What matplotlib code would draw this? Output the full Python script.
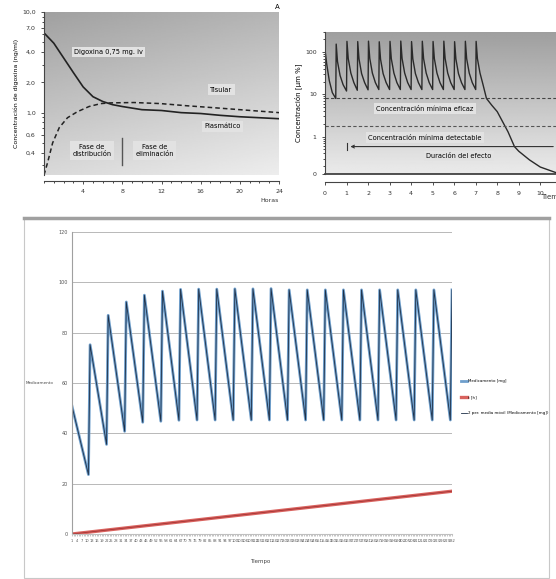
import matplotlib.pyplot as plt
import numpy as np
from matplotlib.patches import Rectangle
from matplotlib.lines import Line2D
from matplotlib.ticker import NullFormatter, MultipleLocator

# ---- panel A: digoxina ----
horas_plasma = [0, 1, 2, 3, 4, 5, 6, 7, 8, 10, 12, 14, 16, 18, 20, 22, 24]
conc_plasma = [6.2, 4.9, 3.5, 2.5, 1.8, 1.44, 1.29, 1.2, 1.15, 1.07, 1.05, 1.0,
               0.98, 0.94, 0.91, 0.89, 0.87]
horas_tisular = [0, 0.37, 0.88, 1.56, 2.4, 3.4, 4.6, 5.8, 6.8, 9.2, 11.9, 14.6,
                 17.3, 20, 24]
conc_tisular = [0.24, 0.32, 0.5, 0.71, 0.89, 1.02, 1.15, 1.23, 1.25, 1.26, 1.23,
                1.17, 1.12, 1.07, 1.0]
ticks_a = [0.4, 0.6, 1, 2, 4, 7, 10]
etiquetas_a = ['0,4', '0,6', '1,0', '2,0', '4,0', '7,0', '10,0']

# ---- panel de dosis repetidas ----
tiempo_dosis = [
    0.00, 0.08, 0.20, 0.34,
    0.50, 0.52, 0.58, 0.70, 0.84,
    1.00, 1.02, 1.08, 1.20, 1.34,
    1.50, 1.52, 1.58, 1.70, 1.84,
    2.00, 2.02, 2.08, 2.20, 2.34,
    2.50, 2.52, 2.58, 2.70, 2.84,
    3.00, 3.02, 3.08, 3.20, 3.34,
    3.50, 3.52, 3.58, 3.70, 3.84,
    4.00, 4.02, 4.08, 4.20, 4.34,
    4.50, 4.52, 4.58, 4.70, 4.84,
    5.00, 5.02, 5.08, 5.20, 5.34,
    5.50, 5.52, 5.58, 5.70, 5.84,
    6.00, 6.02, 6.08, 6.20, 6.34,
    6.50, 6.52, 6.58, 6.70, 6.84,
    7.00, 7.02, 7.08, 7.20, 7.34,
    7.50, 7.75, 8.00, 8.50, 8.80, 9.00, 9.50, 10.00, 10.73]
concentracion = [
    115, 52, 21, 11,
    8.0, 155, 60, 28, 17,
    12.0, 180, 70, 32, 19,
    12.5, 178, 69, 31, 19,
    12.8, 182, 71, 32, 19,
    13.0, 176, 68, 31, 19,
    13.0, 180, 70, 32, 19,
    13.0, 183, 71, 32, 19,
    13.0, 178, 69, 31, 19,
    13.0, 181, 70, 32, 19,
    13.0, 179, 70, 32, 19,
    13.0, 182, 71, 32, 19,
    13.0, 177, 69, 31, 19,
    13.0, 181, 70, 32, 19,
    13.0, 180, 70, 32, 17,
    8.0, 5.5, 3.9, 1.3, 0.58, 0.45, 0.28, 0.19, 0.14]
nivel_eficaz = 8.0
nivel_detectable = 1.8
nivel_duracion = 0.58
inicio_efecto = 1.0

# ---- grafico de Excel ----
indices_med = [1, 11, 12, 22, 23, 33, 34, 44, 45, 55, 56, 66, 67, 77, 78, 88, 89,
               99, 100, 110, 111, 121, 122, 132, 133, 143, 144, 154, 155, 165, 166,
               176, 177, 187, 188, 198, 199, 209, 210, 220, 221, 231, 232]
medicamento = [50.8, 23.6, 75.2, 35.6, 86.9, 40.8, 92.2, 44.4, 94.9, 44.8, 96.5,
               45.2, 97.2, 45.3, 97.3, 45.3, 97.3, 45.3, 97.4, 45.3, 97.4, 45.3, 97.5,
               45.3, 97.0, 45.3, 97.0, 45.3, 97.0, 45.3, 97.0, 45.3, 97.0, 45.3, 97.0,
               45.3, 97.0, 45.3, 97.0, 45.3, 97.0, 45.3, 97.0]
indices_t = [1, 232]
tiempo_h = [0, 17]
n_categorias = 232

W, H = 556, 579


def rect(l, t, r, b):
    return [l / W, 1 - b / H, (r - l) / W, (b - t) / H]


fig = plt.figure(figsize=(W / 100, H / 100), dpi=100)


def fondo(r, g, borde_inf=False):
    bg = fig.add_axes(r, zorder=0)
    bg.imshow(g, cmap='gray', vmin=0, vmax=1, aspect='auto', extent=[0, 1, 0, 1],
              interpolation='bilinear')
    bg.set_xticks([])
    bg.set_yticks([])
    for s in ['top', 'left', 'right']:
        bg.spines[s].set_visible(False)
    bg.spines['bottom'].set_visible(borde_inf)
    bg.spines['bottom'].set_color('#333333')
    bg.spines['bottom'].set_linewidth(1.2)


yy, xx = np.mgrid[0:1:120j, 0:1:120j]

# ---------- panel superior izquierdo ----------
r1 = rect(44, 12, 279, 175)
fondo(r1, 0.63 + 0.22 * yy + 0.08 * xx)
ax1 = fig.add_axes(r1, zorder=1)
ax1.set_facecolor('none')
ax1.set_yscale('log')
ax1.set_xlim(0, 24)
ax1.set_ylim(0.24, 10)
ax1.plot(horas_plasma, conc_plasma, color='#222222', lw=1.2)
ax1.plot(horas_tisular, conc_tisular, color='#222222', lw=1.1, ls=(0, (3, 2)))
ax1.set_yticks(ticks_a)
ax1.set_yticklabels(etiquetas_a)
ax1.yaxis.set_minor_formatter(NullFormatter())
ax1.set_xticks([4, 8, 12, 16, 20, 24])
ax1.xaxis.set_minor_locator(MultipleLocator(1))
ax1.tick_params(labelsize=4.5, length=2.5, width=0.6, colors='#333333')
ax1.tick_params(which='minor', length=1.5, width=0.5)
for s in ['top', 'right']:
    ax1.spines[s].set_visible(False)
ax1.spines['bottom'].set_position(('outward', 4))
for s in ['left', 'bottom']:
    ax1.spines[s].set_color('#444444')
    ax1.spines[s].set_linewidth(0.8)
ax1.set_ylabel('Concentración de digoxina (ng/ml)', fontsize=4.5, labelpad=2)

caja = dict(boxstyle='square,pad=0.35', fc='#e2e2e2', ec='none')
ax1.text(6.6, 4.0, 'Digoxina 0,75 mg. iv', fontsize=4.8, ha='center', va='center', bbox=caja)
ax1.text(18.1, 1.69, 'Tisular', fontsize=4.8, ha='center', va='center', bbox=caja)
ax1.text(18.2, 0.73, 'Plasmático', fontsize=4.8, ha='center', va='center', bbox=caja)
ax1.text(4.9, 0.42, 'Fase de\ndistribución', fontsize=4.8, ha='center', va='center',
         bbox=caja, linespacing=1.3)
ax1.text(11.3, 0.42, 'Fase de\neliminación', fontsize=4.8, ha='center', va='center',
         bbox=caja, linespacing=1.3)
ax1.plot([8, 8], [0.30, 0.565], color='#555555', lw=1.0)
fig.text(270 / W, 1 - 200 / H, 'Horas', fontsize=4.5, ha='center', va='center', color='#333333')
fig.text(277 / W, 1 - 7 / H, 'A', fontsize=5, ha='center', va='center')

# ---------- panel superior derecho ----------
r2 = rect(325, 32, 556, 174)
fondo(r2, 0.62 + 0.30 * yy, borde_inf=True)
ax2 = fig.add_axes(r2, zorder=1)
ax2.set_facecolor('none')
ax2.set_yscale('log')
ax2.set_xlim(0, 10.73)
ax2.set_ylim(0.13, 300)
ax2.plot(tiempo_dosis, concentracion, color='#2a2a2a', lw=1.0)
ax2.axhline(nivel_eficaz, color='#444444', lw=0.8, ls=(0, (3, 2)))
ax2.axhline(nivel_detectable, color='#555555', lw=0.8, ls=(0, (3, 2)))
ax2.annotate('', xy=(inicio_efecto + 0.05, nivel_duracion), xytext=(10.73, nivel_duracion),
             arrowprops=dict(arrowstyle='->', color='#333333', lw=0.8, mutation_scale=5))
ax2.plot([inicio_efecto, inicio_efecto], [0.49, 0.71], color='#333333', lw=0.8)
ax2.set_yticks([0.13, 1, 10, 100])
ax2.set_yticklabels(['0', '1', '10', '100'])
ax2.yaxis.set_minor_formatter(NullFormatter())
ax2.set_xticks(range(0, 11))
ax2.tick_params(labelsize=4.5, length=2.5, width=0.6, colors='#333333')
ax2.tick_params(which='minor', length=1.5, width=0.5)
for s in ['top', 'right']:
    ax2.spines[s].set_visible(False)
ax2.spines['bottom'].set_position(('outward', 6))
for s in ['left', 'bottom']:
    ax2.spines[s].set_color('#444444')
    ax2.spines[s].set_linewidth(0.8)
ax2.set_ylabel('Concentración [µm %]', fontsize=5, labelpad=2)
ax2.text(4.65, 4.6, 'Concentración mínima eficaz', fontsize=4.8, ha='center', va='center', bbox=caja)
ax2.text(4.65, 0.95, 'Concentración mínima detectable', fontsize=4.8, ha='center', va='center', bbox=caja)
ax2.text(6.23, 0.35, 'Duración del efecto', fontsize=4.8, ha='center', va='center', bbox=caja)
# cortado por el borde, como en el original
fig.text(541 / W, 1 - 197 / H, 'Tiempo', fontsize=5, ha='left', va='center', color='#333333')

# ---------- grafico inferior ----------
fig.patches.append(Rectangle((24 / W, 1 - 578 / H), (549 - 24) / W, (578 - 218) / H,
                             transform=fig.transFigure, fill=False, ec='#c8c8c8', lw=0.8))
fig.lines.append(Line2D([24 / W, 549 / W], [1 - 218 / H, 1 - 218 / H],
                        transform=fig.transFigure, color='#a0a0a0', lw=2.5))

ax3 = fig.add_axes(rect(72, 232, 452, 534))
ax3.set_xlim(1, n_categorias)
ax3.set_ylim(0, 120)
ax3.set_yticks(range(0, 121, 20))
ax3.grid(axis='y', color='#b8b8b8', lw=0.7)
ax3.set_axisbelow(True)
l_med, = ax3.plot(indices_med, medicamento, color='#6f9fcc', lw=2.0)
l_t, = ax3.plot(indices_t, tiempo_h, color='#d9625e', lw=2.4)
ax3.plot(indices_t, tiempo_h, color='#a33434', lw=0.6)
l_ma, = ax3.plot(indices_med, medicamento, color='#1e3048', lw=0.6)
ax3.set_xticks(range(1, n_categorias + 1, 3))
ax3.set_xticklabels([str(i) for i in range(1, n_categorias + 1, 3)])
ax3.set_xticks(range(1, n_categorias + 1), minor=True)
ax3.tick_params(axis='x', which='both', labelsize=2.6, length=1.5, width=0.4,
                colors='#999999', labelcolor='#555555', pad=2)
ax3.tick_params(axis='y', labelsize=3.5, length=0, colors='#555555', pad=3)
for s in ['top', 'right']:
    ax3.spines[s].set_visible(False)
ax3.spines['left'].set_color('#a0a0a0')
ax3.spines['bottom'].set_color('#c0c0c0')
ax3.legend([l_med, l_t, l_ma],
           ['Medicamento [mg]', 't [h]', '2 per. media móvil (Medicamento [mg])'],
           loc='upper left', bbox_to_anchor=(459 / W, 1 - 377 / H),
           bbox_transform=fig.transFigure, frameon=False, fontsize=2.9,
           handlelength=1.6, handletextpad=0.2, labelspacing=3.0, borderpad=0)
fig.text(53 / W, 1 - 383 / H, 'Medicamento', fontsize=3.0, ha='right', va='center', color='#444444')
fig.text(260 / W, 1 - 562 / H, 'Tiempo', fontsize=4, ha='center', va='center', color='#444444')

fig.savefig('out.png', dpi=100)
